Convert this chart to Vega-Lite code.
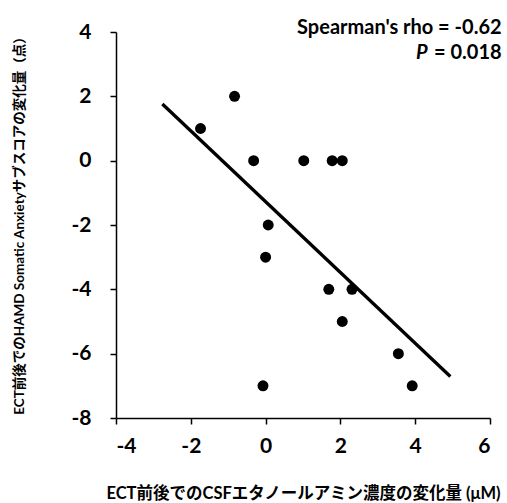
{
  "$schema": "https://vega.github.io/schema/vega-lite/v6.json",
  "width": 374,
  "height": 386,
  "autosize": "none",
  "padding": {"left": 116, "top": 32, "right": 17, "bottom": 85},
  "background": "white",
  "config": {
    "view": {"stroke": null},
    "font": "Lato, Noto Sans CJK JP",
    "axis": {
      "grid": false,
      "domainColor": "black",
      "domainWidth": 1.5,
      "tickColor": "black",
      "tickWidth": 1.5,
      "tickSize": 6,
      "labelFont": "Lato",
      "labelFontSize": 21,
      "labelFontWeight": "bold",
      "labelColor": "black",
      "labelExpr": "replace(datum.label, '−', '-')",
      "titleColor": "black",
      "titleFont": "Lato, Noto Sans CJK JP",
      "titleFontWeight": "bold"
    }
  },
  "datasets": {
    "points": [
      {"x": -1.74, "y": 1},
      {"x": -0.83, "y": 2},
      {"x": -0.32, "y": 0},
      {"x": 1.02, "y": 0},
      {"x": 1.78, "y": 0},
      {"x": 2.05, "y": 0},
      {"x": 0.07, "y": -2},
      {"x": 0.0, "y": -3},
      {"x": 1.69, "y": -4},
      {"x": 2.31, "y": -4},
      {"x": 2.05, "y": -5},
      {"x": 3.55, "y": -6},
      {"x": -0.07, "y": -7},
      {"x": 3.92, "y": -7}
    ],
    "fit": [
      {"x": -2.76, "y": 1.76},
      {"x": 4.94, "y": -6.71}
    ]
  },
  "layer": [
    {
      "data": {"name": "fit"},
      "mark": {"type": "line", "color": "black", "strokeWidth": 3.3},
      "encoding": {
        "x": {
          "field": "x", "type": "quantitative",
          "scale": {"domain": [-4, 6], "nice": false, "zero": false},
          "axis": {
            "values": [-4, -2, 0, 2, 4, 6],
            "labelPadding": 11,
            "title": "ECT前後でのCSFエタノールアミン濃度の変化量 (μM)",
            "titleFontSize": 16.5,
            "titleBaseline": "middle",
            "titleY": 75
          }
        },
        "y": {
          "field": "y", "type": "quantitative",
          "scale": {"domain": [-8, 4], "nice": false, "zero": false},
          "axis": {
            "values": [-8, -6, -4, -2, 0, 2, 4],
            "labelPadding": 19,
            "title": "ECT前後でのHAMD Somatic Anxietyサブスコアの変化量（点）",
            "titleFontSize": 13.5,
            "titleAngle": -90,
            "titleAlign": "center",
            "titleBaseline": "middle",
            "titleX": -97,
            "titleY": 190
          }
        }
      }
    },
    {
      "data": {"name": "points"},
      "mark": {"type": "circle", "color": "black", "opacity": 1, "size": 120},
      "encoding": {
        "x": {"field": "x", "type": "quantitative"},
        "y": {"field": "y", "type": "quantitative"}
      }
    },
    {
      "data": {"values": [{"t": "Spearman's rho = -0.62"}]},
      "mark": {"type": "text", "align": "right", "baseline": "middle", "fontSize": 20, "fontWeight": "bold", "font": "Lato", "color": "black", "clip": false},
      "encoding": {
        "x": {"datum": 6.31, "type": "quantitative"},
        "y": {"datum": 4.12, "type": "quantitative"},
        "text": {"field": "t"}
      }
    },
    {
      "data": {"values": [{"t": "= 0.018"}]},
      "mark": {"type": "text", "align": "right", "baseline": "middle", "fontSize": 20, "fontWeight": "bold", "font": "Lato", "color": "black", "clip": false},
      "encoding": {
        "x": {"datum": 6.31, "type": "quantitative"},
        "y": {"datum": 3.35, "type": "quantitative"},
        "text": {"field": "t"}
      }
    },
    {
      "data": {"values": [{"t": "P"}]},
      "mark": {"type": "text", "align": "right", "baseline": "middle", "fontSize": 20, "fontWeight": "bold", "fontStyle": "italic", "font": "Lato", "color": "black", "clip": false, "dx": -74},
      "encoding": {
        "x": {"datum": 6.31, "type": "quantitative"},
        "y": {"datum": 3.35, "type": "quantitative"},
        "text": {"field": "t"}
      }
    }
  ]
}
